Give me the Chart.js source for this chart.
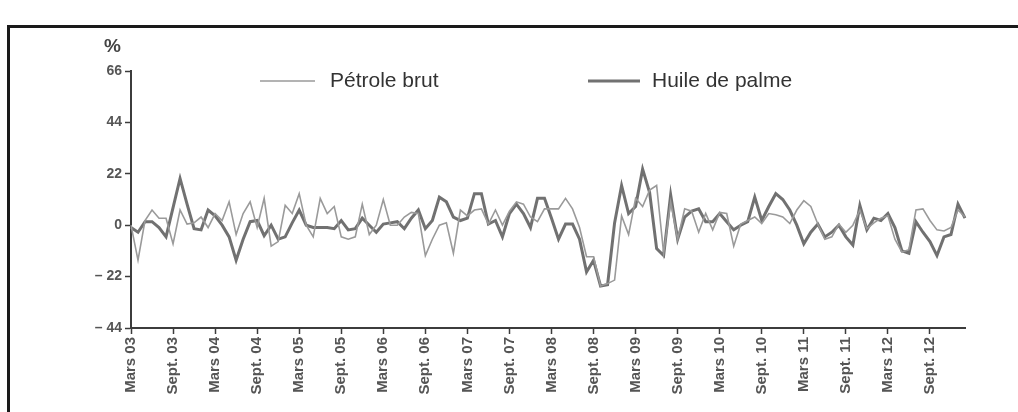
<!DOCTYPE html>
<html>
<head>
<meta charset="utf-8">
<script src="https://cdn.jsdelivr.net/npm/chart.js@4.4.1/dist/chart.umd.min.js"></script>
<style>
  html, body { margin: 0; padding: 0; background: #fff; }
  #frame {
    position: absolute; left: 7px; top: 25px; width: 1011px; height: 387px;
    border-top: 3px solid #1a1a1a; border-left: 3px solid #1a1a1a; box-sizing: border-box;
  }
  #wrap { position: absolute; left: 0; top: 0; width: 1018px; height: 412px; }
</style>
</head>
<body>
<div id="frame"></div>
<div id="wrap"><canvas id="chart" width="1018" height="412"></canvas></div>
<script>
// tick labels, one every 6 months (Mars 03 -> Sept. 12)
const tickLabels = [
  "Mars 03", "Sept. 03", "Mars 04", "Sept. 04", "Mars 05", "Sept. 05",
  "Mars 06", "Sept. 06", "Mars 07", "Sept. 07", "Mars 08", "Sept. 08",
  "Mars 09", "Sept. 09", "Mars 10", "Sept. 10", "Mars 11", "Sept. 11",
  "Mars 12", "Sept. 12"
];

// monthly change in %, Mars 2003 -> Fev 2013
const petroleBrut = [
  0, -15, 2, 6.5, 3, 3, -8, 6.5, 0.5, 1, 3.5, -1, 5, 2, 10, -4, 5, 10, -1, 11.5,
  -9, -7, 8.5, 5, 13.5, 0, -5, 11.5, 5, 8,
  -5, -6, -5, 9, -4, 0, 11, 0, 0, 3.5, 5.5, 5, -13, -6, 0, 1, -12, 6.5, 4, 6.5,
  7, 0.5, 6.5, 0, 6, 10, 9, 3.5, 1.5, 7,
  7, 7, 11.5, 7, -1, -13.5, -13.5, -26, -25, -23.5, 4, -4, 11.5, 8, 15, 17, -12, 10, -6, 7,
  6, -3, 5, -2, 5.5, 5, -9, 0.5, 2, 3.5,
  0.7, 5, 4.5, 3.5, 0.7, 6.5, 10.5, 8, 0.5, -6, -5, 0.5, -3, 0, 6.5, -1.5, 1, 3, 4, -6,
  -11.5, -10.5, 6.5, 7, 2, -2, -2.5, -1, 6.5, 3.5
];

const huileDePalme = [
  -1, -3, 1.5, 1.5, -1, -5, 7.5, 20, 9, -1.5, -2, 6.5, 4, 0, -5, -15, -6, 1.5, 2, -4.5,
  0, -6, -5, 1, 6.5, 0, -1, -1, -1, -1.5,
  2, -2, -1.5, 3, 0, -3, 0.5, 1, 1.5, -1.5, 3, 6.5, -1.5, 2, 12, 10, 3.5, 2, 3, 13.5,
  13.5, 0.5, 2, -5, 5, 9, 5, -1, 11.5, 11.5,
  3, -6, 0.5, 0.5, -6, -20, -15, -26, -25.5, 1, 17, 5, 8, 24, 14, -10, -13, 13, -6, 3.5,
  6, 7, 1.5, 1.5, 5, 1.5, -2, 0, 1.5, 12,
  2, 8, 13.5, 11, 6.5, 0, -8, -3, 0.5, -5, -3, 0, -5, -8.5, 8.5, -2, 3, 2, 5, -1,
  -11, -12, 1.5, -3, -7, -13, -5, -4, 9, 3
];

const seriesNames = ["Pétrole brut", "Huile de palme"];

const months = petroleBrut.map((_, i) => i);
const textColor = "#555";
const axisColor = "#3c3c3c";
const fontFamily = "'Liberation Sans', Arial, sans-serif";

// legend and "%" drawn on top
const overlay = {
  id: "overlay",
  afterDraw(chart) {
    const ctx = chart.ctx;
    ctx.save();
    ctx.fillStyle = "#444";
    ctx.font = "bold 19px " + fontFamily;
    ctx.textBaseline = "alphabetic";
    ctx.fillText("%", 104, 52);

    const spots = [{ x: 260, w: 55, tx: 330 }, { x: 588, w: 52, tx: 652 }];
    ctx.font = "21px " + fontFamily;
    ctx.textBaseline = "middle";
    chart.data.datasets.forEach((ds, i) => {
      const s = spots[i];
      ctx.strokeStyle = ds.borderColor;
      ctx.lineWidth = ds.borderWidth;
      ctx.beginPath();
      ctx.moveTo(s.x, 81);
      ctx.lineTo(s.x + s.w, 81);
      ctx.stroke();
      ctx.fillStyle = "#333";
      ctx.fillText(ds.label, s.tx, 81);
    });
    ctx.restore();
  }
};

new Chart(document.getElementById("chart"), {
  type: "line",
  data: {
    labels: months,
    datasets: [
      {
        label: seriesNames[0],
        data: petroleBrut,
        borderColor: "#9a9a9a",
        borderWidth: 1.6,
        pointRadius: 0,
        tension: 0
      },
      {
        label: seriesNames[1],
        data: huileDePalme,
        borderColor: "#717171",
        borderWidth: 3,
        pointRadius: 0,
        tension: 0
      }
    ]
  },
  options: {
    responsive: false,
    animation: false,
    devicePixelRatio: 1,
    layout: { padding: { left: 0, top: 71, right: 53, bottom: 0 } },
    plugins: { legend: { display: false }, tooltip: { enabled: false } },
    scales: {
      x: {
        type: "category",
        offset: false,
        grid: {
          drawOnChartArea: false,
          tickLength: 6,
          tickWidth: 1.5,
          tickColor: (c) => (c.index % 6 === 0 ? axisColor : "rgba(0,0,0,0)")
        },
        border: { color: axisColor, width: 2 },
        ticks: {
          autoSkip: false,
          minRotation: 90,
          maxRotation: 90,
          padding: 3,
          color: textColor,
          font: { family: fontFamily, size: 15, weight: "bold" },
          callback: (v, i) => (i % 6 === 0 ? tickLabels[i / 6] : "")
        },
        afterFit: (s) => { s.height = 84; }
      },
      y: {
        min: -44,
        max: 66,
        grid: { drawOnChartArea: false, tickLength: 6, tickWidth: 1.5, tickColor: axisColor },
        border: { color: axisColor, width: 2 },
        ticks: {
          stepSize: 22,
          padding: 3,
          color: textColor,
          font: { family: fontFamily, size: 14, weight: "bold" },
          callback: (v) => (v < 0 ? "– " + Math.abs(v) : String(v))
        },
        afterFit: (s) => { s.width = 131; }
      }
    }
  },
  plugins: [overlay]
});
</script>
</body>
</html>
